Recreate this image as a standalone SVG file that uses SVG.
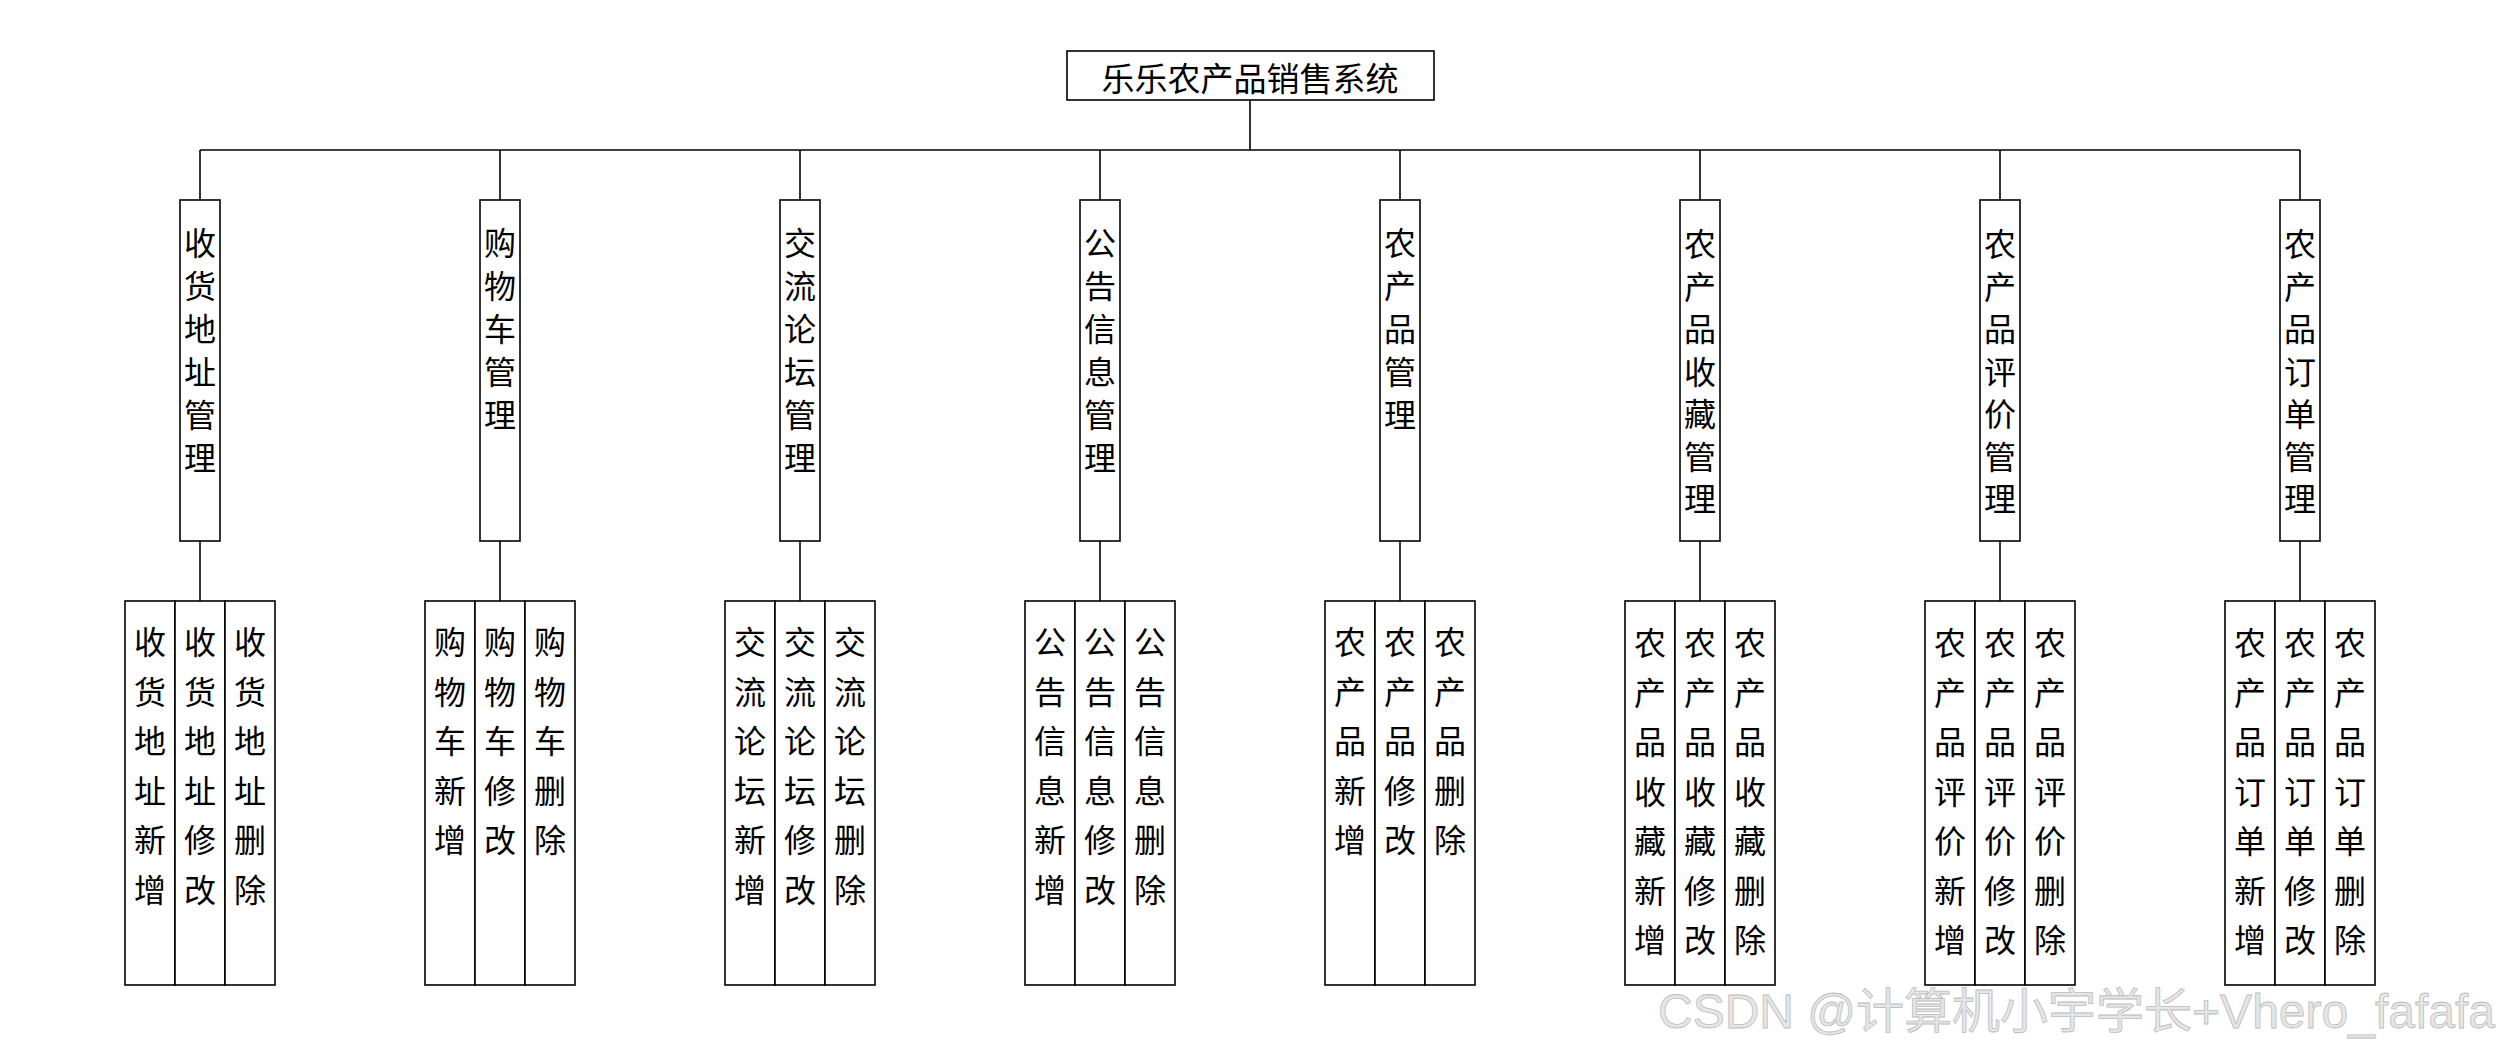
<svg xmlns="http://www.w3.org/2000/svg" width="2500" height="1050" viewBox="0 0 2500 1050">
<style>
.box{fill:#fff;stroke:#000;stroke-width:1.6}
.ln{stroke:#000;stroke-width:1.6;fill:none}
.t{font-family:"Noto Sans CJK SC","Noto Sans",sans-serif;font-size:32px;fill:#000;text-anchor:middle;dominant-baseline:central}
.title{font-size:33px}
.wm{font-family:"Liberation Sans","Noto Sans CJK SC",sans-serif;font-size:48px;fill:#e6e6e6;stroke:#bdbdbd;stroke-width:0.8}
</style>
<rect width="2500" height="1050" fill="#fff"/>
<g id="connectors">
<path class="ln" d="M1250 100V150M200 150H2300M200 150V200M500 150V200M800 150V200M1100 150V200M1400 150V200M1700 150V200M2000 150V200M2300 150V200M200 541V601M500 541V601M800 541V601M1100 541V601M1400 541V601M1700 541V601M2000 541V601M2300 541V601"/>
</g>
<g id="root">
<rect class="box" x="1067" y="51" width="367" height="49"/>
<text class="t title" x="1250" y="77">乐乐农产品销售系统</text>
</g>
<g id="m1">
<rect class="box" x="180" y="200" width="40" height="341"/>
<text class="t"><tspan x="200" y="241">收</tspan><tspan x="200" y="284">货</tspan><tspan x="200" y="327">地</tspan><tspan x="200" y="370">址</tspan><tspan x="200" y="413">管</tspan><tspan x="200" y="456">理</tspan></text>
</g>
<g id="m1-sub">
<rect class="box" x="125" y="601" width="50" height="384"/><rect class="box" x="175" y="601" width="50" height="384"/><rect class="box" x="225" y="601" width="50" height="384"/>
<text class="t"><tspan x="150" y="640">收</tspan><tspan x="150" y="689.5">货</tspan><tspan x="150" y="739">地</tspan><tspan x="150" y="788.5">址</tspan><tspan x="150" y="838">新</tspan><tspan x="150" y="887.5">增</tspan></text>
<text class="t"><tspan x="200" y="640">收</tspan><tspan x="200" y="689.5">货</tspan><tspan x="200" y="739">地</tspan><tspan x="200" y="788.5">址</tspan><tspan x="200" y="838">修</tspan><tspan x="200" y="887.5">改</tspan></text>
<text class="t"><tspan x="250" y="640">收</tspan><tspan x="250" y="689.5">货</tspan><tspan x="250" y="739">地</tspan><tspan x="250" y="788.5">址</tspan><tspan x="250" y="838">删</tspan><tspan x="250" y="887.5">除</tspan></text>
</g>
<g id="m2">
<rect class="box" x="480" y="200" width="40" height="341"/>
<text class="t"><tspan x="500" y="241">购</tspan><tspan x="500" y="284">物</tspan><tspan x="500" y="327">车</tspan><tspan x="500" y="370">管</tspan><tspan x="500" y="413">理</tspan></text>
</g>
<g id="m2-sub">
<rect class="box" x="425" y="601" width="50" height="384"/><rect class="box" x="475" y="601" width="50" height="384"/><rect class="box" x="525" y="601" width="50" height="384"/>
<text class="t"><tspan x="450" y="640">购</tspan><tspan x="450" y="689.5">物</tspan><tspan x="450" y="739">车</tspan><tspan x="450" y="788.5">新</tspan><tspan x="450" y="838">增</tspan></text>
<text class="t"><tspan x="500" y="640">购</tspan><tspan x="500" y="689.5">物</tspan><tspan x="500" y="739">车</tspan><tspan x="500" y="788.5">修</tspan><tspan x="500" y="838">改</tspan></text>
<text class="t"><tspan x="550" y="640">购</tspan><tspan x="550" y="689.5">物</tspan><tspan x="550" y="739">车</tspan><tspan x="550" y="788.5">删</tspan><tspan x="550" y="838">除</tspan></text>
</g>
<g id="m3">
<rect class="box" x="780" y="200" width="40" height="341"/>
<text class="t"><tspan x="800" y="241">交</tspan><tspan x="800" y="284">流</tspan><tspan x="800" y="327">论</tspan><tspan x="800" y="370">坛</tspan><tspan x="800" y="413">管</tspan><tspan x="800" y="456">理</tspan></text>
</g>
<g id="m3-sub">
<rect class="box" x="725" y="601" width="50" height="384"/><rect class="box" x="775" y="601" width="50" height="384"/><rect class="box" x="825" y="601" width="50" height="384"/>
<text class="t"><tspan x="750" y="640">交</tspan><tspan x="750" y="689.5">流</tspan><tspan x="750" y="739">论</tspan><tspan x="750" y="788.5">坛</tspan><tspan x="750" y="838">新</tspan><tspan x="750" y="887.5">增</tspan></text>
<text class="t"><tspan x="800" y="640">交</tspan><tspan x="800" y="689.5">流</tspan><tspan x="800" y="739">论</tspan><tspan x="800" y="788.5">坛</tspan><tspan x="800" y="838">修</tspan><tspan x="800" y="887.5">改</tspan></text>
<text class="t"><tspan x="850" y="640">交</tspan><tspan x="850" y="689.5">流</tspan><tspan x="850" y="739">论</tspan><tspan x="850" y="788.5">坛</tspan><tspan x="850" y="838">删</tspan><tspan x="850" y="887.5">除</tspan></text>
</g>
<g id="m4">
<rect class="box" x="1080" y="200" width="40" height="341"/>
<text class="t"><tspan x="1100" y="241">公</tspan><tspan x="1100" y="284">告</tspan><tspan x="1100" y="327">信</tspan><tspan x="1100" y="370">息</tspan><tspan x="1100" y="413">管</tspan><tspan x="1100" y="456">理</tspan></text>
</g>
<g id="m4-sub">
<rect class="box" x="1025" y="601" width="50" height="384"/><rect class="box" x="1075" y="601" width="50" height="384"/><rect class="box" x="1125" y="601" width="50" height="384"/>
<text class="t"><tspan x="1050" y="640">公</tspan><tspan x="1050" y="689.5">告</tspan><tspan x="1050" y="739">信</tspan><tspan x="1050" y="788.5">息</tspan><tspan x="1050" y="838">新</tspan><tspan x="1050" y="887.5">增</tspan></text>
<text class="t"><tspan x="1100" y="640">公</tspan><tspan x="1100" y="689.5">告</tspan><tspan x="1100" y="739">信</tspan><tspan x="1100" y="788.5">息</tspan><tspan x="1100" y="838">修</tspan><tspan x="1100" y="887.5">改</tspan></text>
<text class="t"><tspan x="1150" y="640">公</tspan><tspan x="1150" y="689.5">告</tspan><tspan x="1150" y="739">信</tspan><tspan x="1150" y="788.5">息</tspan><tspan x="1150" y="838">删</tspan><tspan x="1150" y="887.5">除</tspan></text>
</g>
<g id="m5">
<rect class="box" x="1380" y="200" width="40" height="341"/>
<text class="t"><tspan x="1400" y="241">农</tspan><tspan x="1400" y="284">产</tspan><tspan x="1400" y="327">品</tspan><tspan x="1400" y="370">管</tspan><tspan x="1400" y="413">理</tspan></text>
</g>
<g id="m5-sub">
<rect class="box" x="1325" y="601" width="50" height="384"/><rect class="box" x="1375" y="601" width="50" height="384"/><rect class="box" x="1425" y="601" width="50" height="384"/>
<text class="t"><tspan x="1350" y="640">农</tspan><tspan x="1350" y="689.5">产</tspan><tspan x="1350" y="739">品</tspan><tspan x="1350" y="788.5">新</tspan><tspan x="1350" y="838">增</tspan></text>
<text class="t"><tspan x="1400" y="640">农</tspan><tspan x="1400" y="689.5">产</tspan><tspan x="1400" y="739">品</tspan><tspan x="1400" y="788.5">修</tspan><tspan x="1400" y="838">改</tspan></text>
<text class="t"><tspan x="1450" y="640">农</tspan><tspan x="1450" y="689.5">产</tspan><tspan x="1450" y="739">品</tspan><tspan x="1450" y="788.5">删</tspan><tspan x="1450" y="838">除</tspan></text>
</g>
<g id="m6">
<rect class="box" x="1680" y="200" width="40" height="341"/>
<text class="t"><tspan x="1700" y="242">农</tspan><tspan x="1700" y="284.5">产</tspan><tspan x="1700" y="327">品</tspan><tspan x="1700" y="369.5">收</tspan><tspan x="1700" y="412">藏</tspan><tspan x="1700" y="454.5">管</tspan><tspan x="1700" y="497">理</tspan></text>
</g>
<g id="m6-sub">
<rect class="box" x="1625" y="601" width="50" height="384"/><rect class="box" x="1675" y="601" width="50" height="384"/><rect class="box" x="1725" y="601" width="50" height="384"/>
<text class="t"><tspan x="1650" y="641">农</tspan><tspan x="1650" y="690.5">产</tspan><tspan x="1650" y="740">品</tspan><tspan x="1650" y="789.5">收</tspan><tspan x="1650" y="839">藏</tspan><tspan x="1650" y="888.5">新</tspan><tspan x="1650" y="938">增</tspan></text>
<text class="t"><tspan x="1700" y="641">农</tspan><tspan x="1700" y="690.5">产</tspan><tspan x="1700" y="740">品</tspan><tspan x="1700" y="789.5">收</tspan><tspan x="1700" y="839">藏</tspan><tspan x="1700" y="888.5">修</tspan><tspan x="1700" y="938">改</tspan></text>
<text class="t"><tspan x="1750" y="641">农</tspan><tspan x="1750" y="690.5">产</tspan><tspan x="1750" y="740">品</tspan><tspan x="1750" y="789.5">收</tspan><tspan x="1750" y="839">藏</tspan><tspan x="1750" y="888.5">删</tspan><tspan x="1750" y="938">除</tspan></text>
</g>
<g id="m7">
<rect class="box" x="1980" y="200" width="40" height="341"/>
<text class="t"><tspan x="2000" y="242">农</tspan><tspan x="2000" y="284.5">产</tspan><tspan x="2000" y="327">品</tspan><tspan x="2000" y="369.5">评</tspan><tspan x="2000" y="412">价</tspan><tspan x="2000" y="454.5">管</tspan><tspan x="2000" y="497">理</tspan></text>
</g>
<g id="m7-sub">
<rect class="box" x="1925" y="601" width="50" height="384"/><rect class="box" x="1975" y="601" width="50" height="384"/><rect class="box" x="2025" y="601" width="50" height="384"/>
<text class="t"><tspan x="1950" y="641">农</tspan><tspan x="1950" y="690.5">产</tspan><tspan x="1950" y="740">品</tspan><tspan x="1950" y="789.5">评</tspan><tspan x="1950" y="839">价</tspan><tspan x="1950" y="888.5">新</tspan><tspan x="1950" y="938">增</tspan></text>
<text class="t"><tspan x="2000" y="641">农</tspan><tspan x="2000" y="690.5">产</tspan><tspan x="2000" y="740">品</tspan><tspan x="2000" y="789.5">评</tspan><tspan x="2000" y="839">价</tspan><tspan x="2000" y="888.5">修</tspan><tspan x="2000" y="938">改</tspan></text>
<text class="t"><tspan x="2050" y="641">农</tspan><tspan x="2050" y="690.5">产</tspan><tspan x="2050" y="740">品</tspan><tspan x="2050" y="789.5">评</tspan><tspan x="2050" y="839">价</tspan><tspan x="2050" y="888.5">删</tspan><tspan x="2050" y="938">除</tspan></text>
</g>
<g id="m8">
<rect class="box" x="2280" y="200" width="40" height="341"/>
<text class="t"><tspan x="2300" y="242">农</tspan><tspan x="2300" y="284.5">产</tspan><tspan x="2300" y="327">品</tspan><tspan x="2300" y="369.5">订</tspan><tspan x="2300" y="412">单</tspan><tspan x="2300" y="454.5">管</tspan><tspan x="2300" y="497">理</tspan></text>
</g>
<g id="m8-sub">
<rect class="box" x="2225" y="601" width="50" height="384"/><rect class="box" x="2275" y="601" width="50" height="384"/><rect class="box" x="2325" y="601" width="50" height="384"/>
<text class="t"><tspan x="2250" y="641">农</tspan><tspan x="2250" y="690.5">产</tspan><tspan x="2250" y="740">品</tspan><tspan x="2250" y="789.5">订</tspan><tspan x="2250" y="839">单</tspan><tspan x="2250" y="888.5">新</tspan><tspan x="2250" y="938">增</tspan></text>
<text class="t"><tspan x="2300" y="641">农</tspan><tspan x="2300" y="690.5">产</tspan><tspan x="2300" y="740">品</tspan><tspan x="2300" y="789.5">订</tspan><tspan x="2300" y="839">单</tspan><tspan x="2300" y="888.5">修</tspan><tspan x="2300" y="938">改</tspan></text>
<text class="t"><tspan x="2350" y="641">农</tspan><tspan x="2350" y="690.5">产</tspan><tspan x="2350" y="740">品</tspan><tspan x="2350" y="789.5">订</tspan><tspan x="2350" y="839">单</tspan><tspan x="2350" y="888.5">删</tspan><tspan x="2350" y="938">除</tspan></text>
</g>
<text class="wm" x="2495" y="1028" text-anchor="end">CSDN @计算机小宇学长+Vhero_fafafa</text>
</svg>
